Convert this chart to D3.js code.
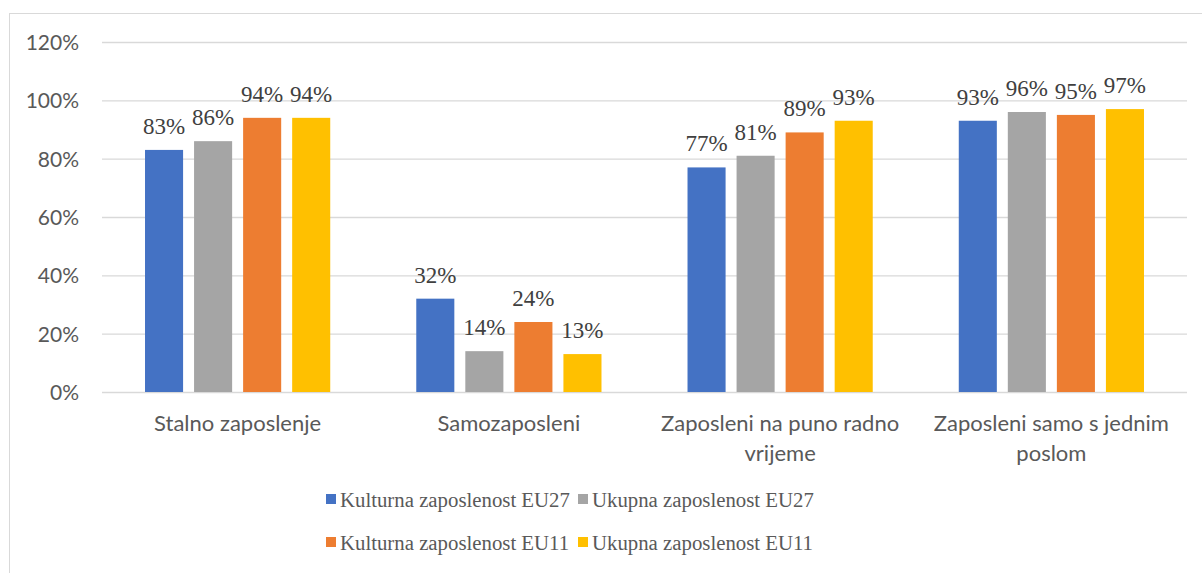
<!DOCTYPE html>
<html lang="hr">
<head>
<meta charset="UTF-8">
<title>Zaposlenost</title>
<script src="https://d3js.org/d3.v7.min.js"></script>
<style>
  body { margin: 0; background: #fff; }
  .tick text { font-family: Lato, sans-serif; font-size: 21px; fill: #595959; }
  .lbl { font-family: "Liberation Serif", serif; font-size: 23px; fill: #404040; }
  .cat { font-family: Lato, sans-serif; font-size: 22px; fill: #595959; }
  .leg { font-family: "Liberation Serif", serif; font-size: 20.8px; fill: #595959; }
</style>
</head>
<body>
<svg width="1202" height="573"></svg>
<script>
// categories and series
const categories = [
  ["Stalno zaposlenje"],
  ["Samozaposleni"],
  ["Zaposleni na puno radno", "vrijeme"],
  ["Zaposleni samo s jednim", "poslom"]
];
const seriesNames = [
  "Kulturna zaposlenost EU27",
  "Ukupna zaposlenost EU27",
  "Kulturna zaposlenost EU11",
  "Ukupna zaposlenost EU11"
];
const colors = ["#4472c4", "#a5a5a5", "#ed7d31", "#ffc000"];

const kulturnaEU27 = [83, 32, 77, 93];
const ukupnaEU27   = [86, 14, 81, 96];
const kulturnaEU11 = [94, 24, 89, 95];
const ukupnaEU11   = [94, 13, 93, 97];
const values = [kulturnaEU27, ukupnaEU27, kulturnaEU11, ukupnaEU11];

const yTicks = [0, 20, 40, 60, 80, 100, 120];

const svg = d3.select("svg");

// outer frame
svg.append("rect")
  .attr("x", 9.5).attr("y", 13.5)
  .attr("width", 1220).attr("height", 600)
  .attr("fill", "none").attr("stroke", "#d9d9d9");

const plotLeft = 102, plotRight = 1187, plotTop = 42, plotBottom = 392;

const x0 = d3.scaleBand().domain(d3.range(categories.length)).range([plotLeft, plotRight]);
const x1 = d3.scaleBand().domain(d3.range(seriesNames.length))
  .range([0, x0.bandwidth()])
  .paddingInner(0.224).paddingOuter(0.877);
const y = d3.scaleLinear().domain([0, 120]).range([plotBottom, plotTop]);

// y axis with gridlines
const yAxis = svg.append("g")
  .attr("transform", `translate(${plotLeft},0)`)
  .call(d3.axisLeft(y).tickValues(yTicks).tickFormat(d => d + "%")
    .tickSize(-(plotRight - plotLeft)).tickPadding(23));
yAxis.select(".domain").remove();
yAxis.selectAll(".tick line").attr("stroke", "#d9d9d9").attr("stroke-width", 1.3);
yAxis.selectAll(".tick text").attr("dy", "0.35em");

// bars
const groups = svg.append("g").selectAll("g")
  .data(categories.map((c, i) => i))
  .join("g")
  .attr("transform", i => `translate(${x0(i)},0)`);

groups.selectAll("rect")
  .data(i => values.map((s, k) => ({ k, v: s[i] })))
  .join("rect")
  .attr("x", d => x1(d.k))
  .attr("width", x1.bandwidth())
  .attr("y", d => y(d.v))
  .attr("height", d => y(0) - y(d.v))
  .attr("fill", d => colors[d.k]);

groups.selectAll("text.lbl")
  .data(i => values.map((s, k) => ({ k, v: s[i] })))
  .join("text")
  .attr("class", "lbl")
  .attr("x", d => x1(d.k) + x1.bandwidth() / 2)
  .attr("y", d => y(d.v) - 16)
  .attr("text-anchor", "middle")
  .text(d => d.v + "%");

// category labels
const catText = svg.append("g").selectAll("text")
  .data(categories)
  .join("text")
  .attr("class", "cat")
  .attr("text-anchor", "middle")
  .attr("x", (d, i) => x0(i) + x0.bandwidth() / 2)
  .attr("y", 431);
catText.selectAll("tspan")
  .data(d => d)
  .join("tspan")
  .attr("x", function () { return this.parentNode.getAttribute("x"); })
  .attr("dy", (d, j) => j === 0 ? 0 : 30)
  .text(d => d);

// legend
const legendPos = [
  { x: 326, y: 505 }, { x: 578, y: 505 },
  { x: 326, y: 548 }, { x: 578, y: 548 }
];
const leg = svg.append("g").selectAll("g")
  .data(seriesNames)
  .join("g")
  .attr("transform", (d, i) => `translate(${legendPos[i].x},${legendPos[i].y})`);
leg.append("rect")
  .attr("x", 0).attr("y", -11).attr("width", 10).attr("height", 10)
  .attr("fill", (d, i) => colors[i]);
leg.append("text")
  .attr("class", "leg")
  .attr("x", 14).attr("y", 0).attr("dy", "0.1em")
  .text(d => d);
</script>
</body>
</html>
